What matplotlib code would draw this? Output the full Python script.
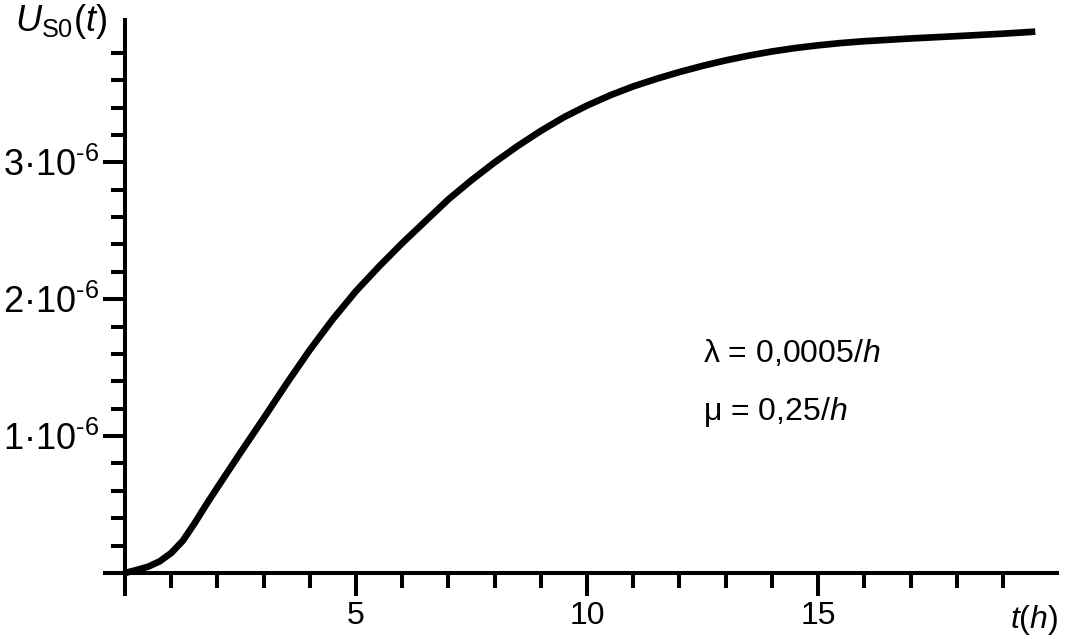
import numpy as np
import matplotlib
matplotlib.use("Agg")
import matplotlib.pyplot as plt

plt.rcParams['font.family'] = ['Liberation Sans', 'DejaVu Sans']
plt.rcParams['mathtext.fontset'] = 'custom'
plt.rcParams['mathtext.rm'] = 'Liberation Sans'
plt.rcParams['mathtext.it'] = 'Liberation Sans:italic'

# curve: t in hours, U_S0 in units of 1e-6
t_h = [0, 0.25, 0.5, 0.75, 1, 1.25, 1.5, 1.75, 2, 2.5, 3, 3.5, 4, 4.5, 5,
       5.5, 6, 6.5, 7, 7.5, 8, 8.5, 9, 9.5, 10, 10.5, 11, 11.5, 12, 12.5,
       13, 13.5, 14, 14.5, 15, 15.5, 16, 17, 18, 19, 19.7]
u_s0 = [0, 0.022, 0.046, 0.085, 0.146, 0.235, 0.36, 0.495, 0.625, 0.88,
        1.13, 1.385, 1.63, 1.855, 2.06, 2.24, 2.41, 2.57, 2.73, 2.87, 3.00,
        3.12, 3.23, 3.33, 3.415, 3.49, 3.555, 3.61, 3.66, 3.705, 3.745,
        3.78, 3.81, 3.835, 3.855, 3.872, 3.885, 3.905, 3.922, 3.94, 3.955]

x_major = [0, 5, 10, 15]
x_major_labels = ['', '5', '10', '15']
y_major = [0, 1, 2, 3]
y_major_labels = ['', '$1·10^{‐6}$', '$2·10^{‐6}$', '$3·10^{‐6}$']

W, H = 1066, 639
fig = plt.figure(figsize=(W / 100, H / 100), dpi=100)
ax = fig.add_axes([125 / W, 1 - 573 / H, 932 / W, 553 / H])

ax.plot(t_h, np.array(u_s0) * 1e-6, color='black', lw=4.8,
        solid_capstyle='butt', solid_joinstyle='round', clip_on=False, zorder=3)

ax.set_xlim(0, 20.17)
ax.set_ylim(0, 4.04e-6)

for s in ['top', 'right']:
    ax.spines[s].set_visible(False)
for s in ['left', 'bottom']:
    ax.spines[s].set_linewidth(2.9)

ax.set_xticks(x_major)
ax.set_xticklabels(x_major_labels)
ax.set_xticks([i for i in range(1, 20) if i % 5 != 0], minor=True)
ax.set_yticks([v * 1e-6 for v in y_major])
ax.set_yticklabels(y_major_labels)
ax.set_yticks([k * 0.2e-6 for k in range(1, 20) if k % 5 != 0], minor=True)

ax.tick_params(axis='x', which='major', length=16.5, width=2.9, labelsize=23, pad=4)
ax.tick_params(axis='x', which='minor', length=10.8, width=2.9)
ax.tick_params(axis='y', which='major', length=16, width=2.9, labelsize=26, pad=3)
ax.tick_params(axis='y', which='minor', length=10, width=2.9)

fig.text(15 / W, 1 - 2 / H, r'$U_{\mathrm{S0}}(t)$', fontsize=26, ha='left', va='top')
fig.text(1058 / W, 1 - 628 / H, r'$t(h)$', fontsize=23, ha='right', va='baseline')

fig.text(703 / W, 1 - 362 / H, r'λ = 0,0005/$h$', fontsize=23, ha='left', va='baseline')
fig.text(703 / W, 1 - 420 / H, r'μ = 0,25/$h$', fontsize=23, ha='left', va='baseline')

fig.savefig('out.png', dpi=100)
